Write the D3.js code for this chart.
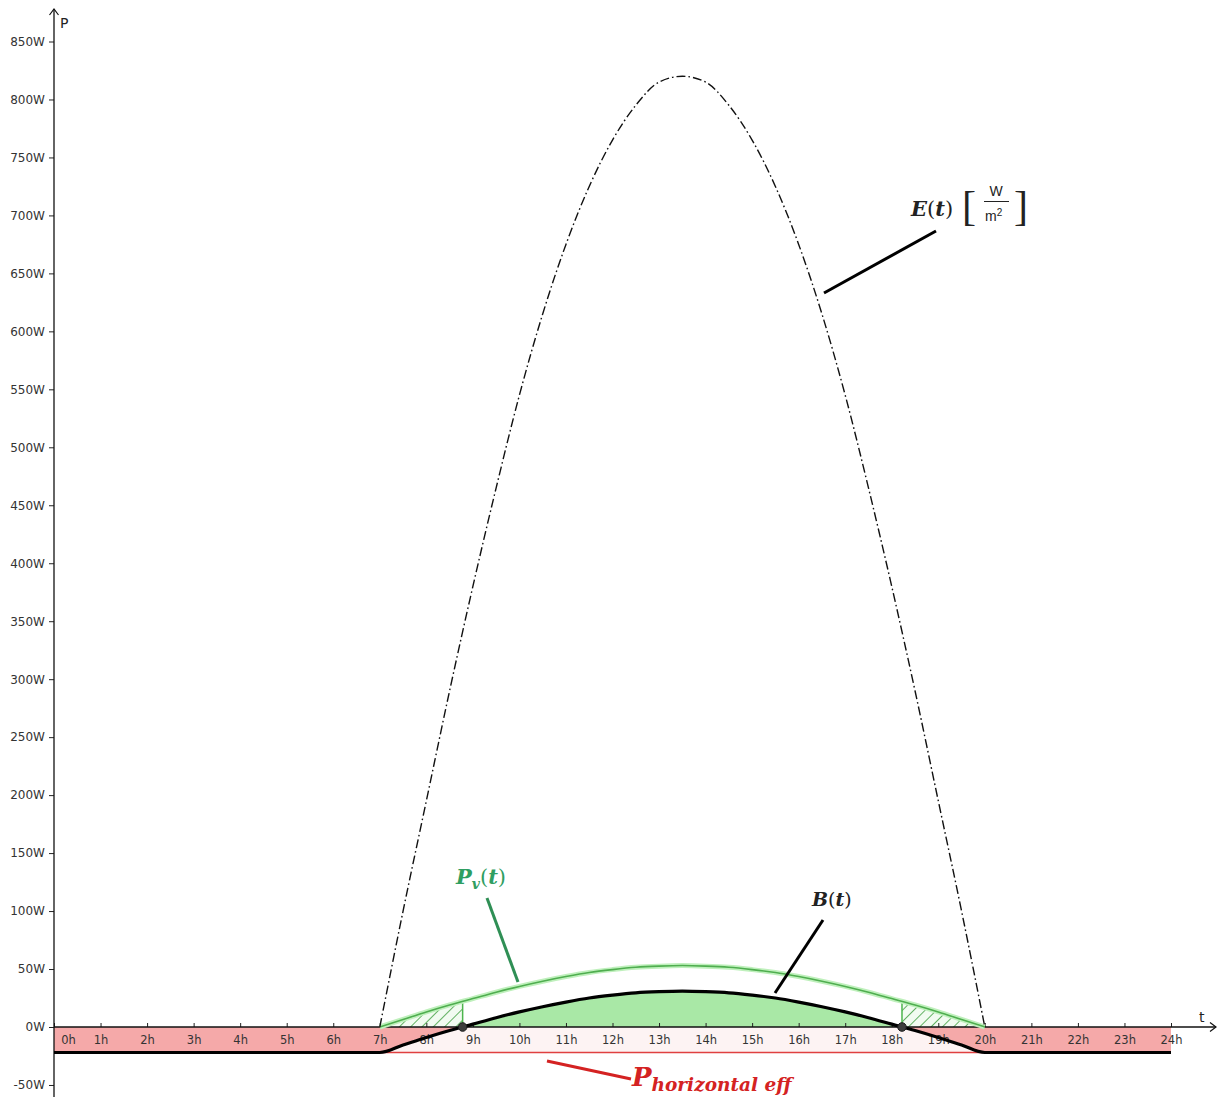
<!DOCTYPE html>
<html>
<head>
<meta charset="utf-8">
<script src="https://cdn.jsdelivr.net/npm/d3@7"></script>
<style>
  html, body { margin: 0; padding: 0; background: #fff; }
  svg { display: block; }
</style>
</head>
<body>
<svg id="chart" width="1218" height="1097"></svg>
<script>
// ---- data -------------------------------------------------------------
// Time axis ticks (hours) and their labels
const hourTicks = [0,1,2,3,4,5,6,7,8,9,10,11,12,13,14,15,16,17,18,19,20,21,22,23,24];
const hourLabels = ["0h","1h","2h","3h","4h","5h","6h","7h","8h","9h","10h","11h","12h",
  "13h","14h","15h","16h","17h","18h","19h","20h","21h","22h","23h","24h"];
// Power axis ticks (W)
const powerTicks = [-50,0,50,100,150,200,250,300,350,400,450,500,550,600,650,700,750,800,850];

// Daytime samples every half hour, sunrise 7h to sunset 20h
const dayTimes = [7,7.5,8,8.5,9,9.5,10,10.5,11,11.5,12,12.5,13,13.5,
  14,14.5,15,15.5,16,16.5,17,17.5,18,18.5,19,19.5,20];
// Solar irradiance E(t) in W/m²
const irradiance = [0,100,195,290,380,465,545,615,675,725,765,795,815,820,
  815,795,765,725,675,615,545,465,380,290,195,100,0];
// PV module output Pv(t) in W
const pvPower = [0,6.5,13,19,24.5,30,35,39.5,43.5,47,49.5,51.5,52.5,53,
  52.5,51.5,49.5,47,43.5,39.5,35,30,24.5,19,13,6.5,0];
// Energy balance B(t) in W during daylight
const balanceDay = [-22,-15.5,-9,-3,2.5,8,13,17.5,21.5,25,27.5,29.5,30.5,31,
  30.5,29.5,27.5,25,21.5,17.5,13,8,2.5,-3,-9,-15.5,-22];
// Constant consumption (horizontal effective power) in W
const baseLoad = 22;
// Times where the balance changes sign
const crossings = [8.78, 18.22];

// ---- setup ------------------------------------------------------------
const svg = d3.select("#chart");
const x = d3.scaleLinear().domain([0, 24]).range([54, 1171]);
const y = d3.scaleLinear().domain([0, 850]).range([1027, 41.5]);

const pvPts = dayTimes.map((t, i) => [t, pvPower[i]]);
const ePts = dayTimes.map((t, i) => [t, irradiance[i]]);
const bPts = [[0, -baseLoad], ...dayTimes.map((t, i) => [t, balanceDay[i]]), [24, -baseLoad]];

const defs = svg.append("defs");
// hatch for the PV yield that does not cover the load
const pat = defs.append("pattern")
  .attr("id", "hatch").attr("patternUnits", "userSpaceOnUse")
  .attr("width", 8).attr("height", 8)
  .attr("patternTransform", "rotate(45)");
pat.append("rect").attr("width", 8).attr("height", 8).attr("fill", "#f2fbf1");
pat.append("line").attr("x1", 0).attr("y1", 0).attr("x2", 0).attr("y2", 8)
  .attr("stroke", "#3d9e3d").attr("stroke-width", 1.6);

// clip regions: above / below the time axis, and the early / late hatch windows
defs.append("clipPath").attr("id", "above")
  .append("rect").attr("x", 0).attr("y", 0).attr("width", 1218).attr("height", y(0));
defs.append("clipPath").attr("id", "below")
  .append("rect").attr("x", 0).attr("y", y(0)).attr("width", 1218).attr("height", 1097 - y(0));
const hatchClip = defs.append("clipPath").attr("id", "hatchWin");
hatchClip.append("rect").attr("x", x(7)).attr("y", 0)
  .attr("width", x(crossings[0]) - x(7)).attr("height", y(0));
hatchClip.append("rect").attr("x", x(crossings[1])).attr("y", 0)
  .attr("width", x(20) - x(crossings[1])).attr("height", y(0));

const curve = d3.curveMonotoneX;
const lineGen = d3.line().x(d => x(d[0])).y(d => y(d[1])).curve(curve);
const areaGen = d3.area().x(d => x(d[0])).y0(y(0)).y1(d => y(d[1])).curve(curve);

// faint band of the constant consumption
svg.append("rect")
  .attr("x", x(0)).attr("y", y(0))
  .attr("width", x(24) - x(0)).attr("height", y(-baseLoad) - y(0))
  .attr("fill", "#fdf3f3");

// deficit (pink) and surplus (green) of the balance
svg.append("path").datum(bPts).attr("d", areaGen)
  .attr("fill", "#f5a9a9").attr("clip-path", "url(#below)");
svg.append("path").datum(bPts).attr("d", areaGen)
  .attr("fill", "#a9e8a6").attr("clip-path", "url(#above)");

// hatched PV yield while the balance is still negative
svg.append("path").datum(pvPts).attr("d", areaGen)
  .attr("fill", "url(#hatch)").attr("clip-path", "url(#hatchWin)");
crossings.forEach(c => {
  svg.append("line")
    .attr("x1", x(c)).attr("x2", x(c))
    .attr("y1", y(0)).attr("y2", y(baseLoad))
    .attr("stroke", "#4cb54c").attr("stroke-width", 1.5);
});

// horizontal effective consumption line
svg.append("line")
  .attr("x1", x(0)).attr("x2", x(24))
  .attr("y1", y(-baseLoad)).attr("y2", y(-baseLoad))
  .attr("stroke", "#e04040").attr("stroke-width", 1.3);

// ---- axes -------------------------------------------------------------
const axisFont = "DejaVu Sans, Verdana, sans-serif";
const yAxis = svg.append("g").attr("transform", `translate(${x(0)},0)`)
  .call(d3.axisLeft(y).tickValues(powerTicks).tickFormat(d => d + "W")
    .tickSize(5).tickPadding(4));
yAxis.select(".domain").remove();
yAxis.selectAll("line").attr("stroke", "#222");
yAxis.selectAll("text").attr("font-family", axisFont).attr("font-size", 12).attr("fill", "#333");

const xAxis = svg.append("g").attr("transform", `translate(0,${y(0)})`)
  .call(d3.axisBottom(x).tickValues(hourTicks).tickFormat((d, i) => hourLabels[i])
    .tickSizeInner(-4).tickSizeOuter(0).tickPadding(9));
xAxis.select(".domain").remove();
xAxis.selectAll("line").attr("stroke", "#222");
xAxis.selectAll("text").attr("font-family", axisFont).attr("font-size", 11.5).attr("fill", "#333");
xAxis.selectAll("text").filter((d, i) => i === 0).attr("x", 14);

// axis lines with arrow heads
svg.append("line").attr("x1", x(0)).attr("x2", x(0)).attr("y1", 1097).attr("y2", 9)
  .attr("stroke", "#111").attr("stroke-width", 1.3);
svg.append("path").attr("d", `M${x(0) - 4.5},15 L${x(0)},9 L${x(0) + 4.5},15`)
  .attr("fill", "none").attr("stroke", "#111").attr("stroke-width", 1.2);
svg.append("line").attr("x1", x(0)).attr("x2", 1216).attr("y1", y(0)).attr("y2", y(0))
  .attr("stroke", "#111").attr("stroke-width", 1.3);
svg.append("path").attr("d", `M1210,${y(0) - 4.5} L1216,${y(0)} L1210,${y(0) + 4.5}`)
  .attr("fill", "none").attr("stroke", "#111").attr("stroke-width", 1.2);
svg.append("text").attr("x", 60).attr("y", 28).text("P")
  .attr("font-family", axisFont).attr("font-size", 14).attr("fill", "#222");
svg.append("text").attr("x", 1199).attr("y", 1022).text("t")
  .attr("font-family", axisFont).attr("font-size", 14).attr("fill", "#222");

// ---- curves -----------------------------------------------------------
svg.append("path").datum(pvPts).attr("d", lineGen)
  .attr("fill", "none").attr("stroke", "#bff0bc").attr("stroke-width", 5);
svg.append("path").datum(pvPts).attr("d", lineGen)
  .attr("fill", "none").attr("stroke", "#4fae4f").attr("stroke-width", 1.6);

svg.append("path").datum(bPts).attr("d", lineGen)
  .attr("fill", "none").attr("stroke", "#000").attr("stroke-width", 3.2);

svg.append("path").datum(ePts).attr("d", lineGen)
  .attr("fill", "none").attr("stroke", "#111").attr("stroke-width", 1.4)
  .attr("stroke-dasharray", "9,3,1.6,3");

crossings.forEach(c => {
  svg.append("circle").attr("cx", x(c)).attr("cy", y(0)).attr("r", 4.3)
    .attr("fill", "#3d3d3d").attr("stroke", "#1c1c1c").attr("stroke-width", 1);
});

// ---- annotations ------------------------------------------------------
const serif = "DejaVu Serif, Cambria, serif";
function leader(x1, y1, x2, y2, color) {
  svg.append("line").attr("x1", x1).attr("y1", y1).attr("x2", x2).attr("y2", y2)
    .attr("stroke", color).attr("stroke-width", 3).attr("stroke-linecap", "butt");
}
leader(824, 293, 936, 231, "#000");
leader(487, 898, 518, 982, "#2f8f55");
leader(823, 920, 775, 993, "#000");
leader(547, 1061, 631, 1079, "#d42222");

// E(t) [W/m²]
const eLbl = svg.append("text").attr("x", 911).attr("y", 216)
  .attr("font-family", serif).attr("font-size", 21).attr("fill", "#222");
eLbl.append("tspan").attr("font-weight", "bold").attr("font-style", "italic").text("E");
eLbl.append("tspan").text("(");
eLbl.append("tspan").attr("font-weight", "bold").attr("font-style", "italic").text("t");
eLbl.append("tspan").text(")");
svg.append("text").attr("x", 962).attr("y", 220).text("[")
  .attr("font-family", "Liberation Serif, serif").attr("font-size", 42).attr("fill", "#222");
svg.append("text").attr("x", 1014).attr("y", 220).text("]")
  .attr("font-family", "Liberation Serif, serif").attr("font-size", 42).attr("fill", "#222");
svg.append("text").attr("x", 996).attr("y", 196).attr("text-anchor", "middle").text("W")
  .attr("font-family", "Liberation Sans, Arial, sans-serif").attr("font-size", 14).attr("fill", "#222");
svg.append("line").attr("x1", 984).attr("x2", 1009).attr("y1", 201.5).attr("y2", 201.5)
  .attr("stroke", "#222").attr("stroke-width", 1);
const unitM = svg.append("text").attr("x", 985).attr("y", 221)
  .attr("font-family", "Liberation Sans, Arial, sans-serif").attr("font-size", 14).attr("fill", "#222");
unitM.append("tspan").text("m");
unitM.append("tspan").attr("font-size", 10).attr("dy", -5).text("2");

// Pv(t)
const pvLbl = svg.append("text").attr("x", 456).attr("y", 884)
  .attr("font-family", serif).attr("font-size", 21).attr("fill", "#2f9e62");
pvLbl.append("tspan").attr("font-weight", "bold").attr("font-style", "italic").text("P");
pvLbl.append("tspan").attr("font-weight", "bold").attr("font-style", "italic")
  .attr("font-size", 14).attr("dy", 5).text("v");
pvLbl.append("tspan").attr("dy", -5).text("(");
pvLbl.append("tspan").attr("font-weight", "bold").attr("font-style", "italic").text("t");
pvLbl.append("tspan").text(")");

// B(t)
const bLbl = svg.append("text").attr("x", 812).attr("y", 906)
  .attr("font-family", serif).attr("font-size", 19).attr("fill", "#222");
bLbl.append("tspan").attr("font-weight", "bold").attr("font-style", "italic").text("B");
bLbl.append("tspan").text("(");
bLbl.append("tspan").attr("font-weight", "bold").attr("font-style", "italic").text("t");
bLbl.append("tspan").text(")");

// P horizontal eff
const hLbl = svg.append("text").attr("x", 632).attr("y", 1086)
  .attr("font-family", serif).attr("fill", "#d42222")
  .attr("font-weight", "bold").attr("font-style", "italic");
hLbl.append("tspan").attr("font-size", 26).text("P");
hLbl.append("tspan").attr("font-size", 18.5).attr("dy", 5).text("horizontal eff");
</script>
</body>
</html>
